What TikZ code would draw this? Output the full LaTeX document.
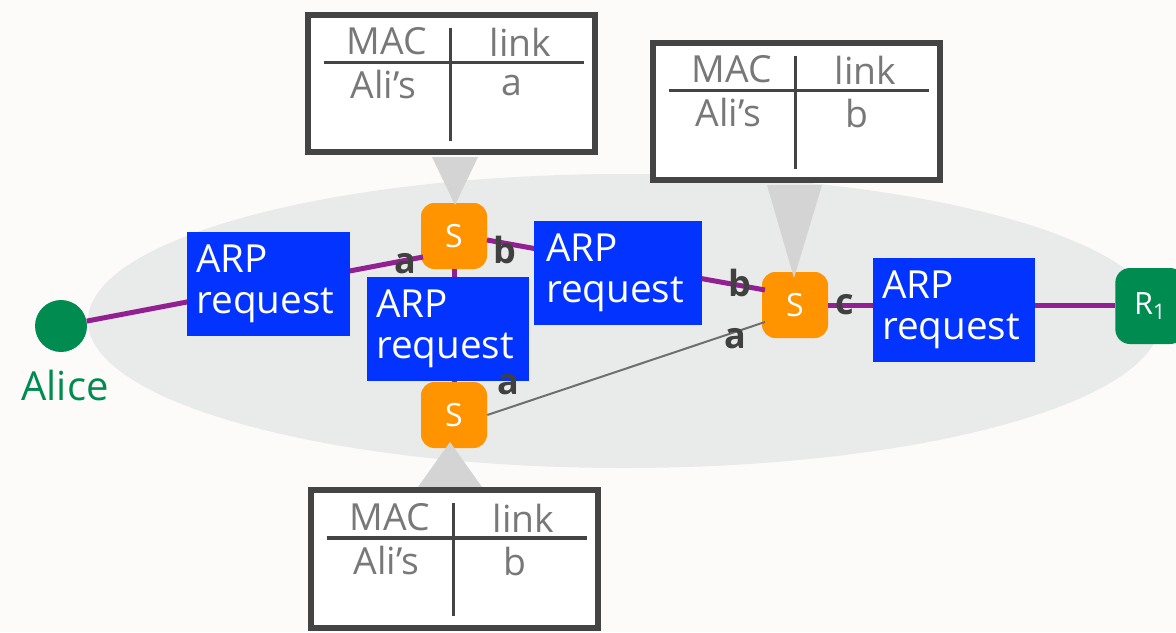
\documentclass[tikz,border=0pt]{standalone}
\usepackage{fontspec}
\setmainfont{Open Sans}
\usetikzlibrary{calc}
\definecolor{bgc}{RGB}{253,251,250}
\definecolor{ellc}{RGB}{233,234,234}
\definecolor{wirec}{RGB}{146,32,146}
\definecolor{boxc}{RGB}{3,51,255}
\definecolor{swc}{RGB}{255,148,0}
\definecolor{grn}{RGB}{0,140,80}
\definecolor{lblc}{RGB}{64,64,64}
\definecolor{tblc}{RGB}{120,120,120}
\definecolor{frm}{RGB}{68,68,68}
\definecolor{tric}{RGB}{212,212,212}
\definecolor{gwire}{RGB}{110,110,110}
\newcommand\mactab[2]{%
 \node[tabtxt] (#1mac) at ($(#1)+(-65,-42)$) {MAC};
 \node[tabtxt] (#1lnk) at ($(#1)+(69,-41)$) {link};
 \node[tabtxt] (#1ali) at ($(#1)+(-68,1)$) {Ali’s};
 \node[tabtxt] (#1val) at ($(#1)+(60,2)$) {#2};
 \draw[tabline] ($(#1)+(-128,-21)$) -- ($(#1)+(132,-21)$);
 \draw[tabline] ($(#1)+(-1,-56)$) -- ($(#1)+(-1,57)$);
}
\begin{document}
\begin{tikzpicture}[x=0.75pt,y=-0.75pt,
  wire/.style={draw=wirec,line width=3.75pt},
  graywire/.style={draw=gwire,line width=1.5pt},
  arpbox/.style={fill=boxc,text=white,minimum width=122pt,minimum height=78pt,
    text width=108pt,inner xsep=7pt,inner ysep=0pt,align=left,
    font=\fontsize{29}{31}\selectfont},
  switchbox/.style={fill=swc,text=white,minimum size=49.5pt,inner sep=0pt,
    rounded corners=10pt,font=\fontsize{24}{26}\selectfont},
  lbl/.style={text=lblc,inner sep=0pt,font=\fontsize{27}{29}\selectfont\bfseries},
  tabtxt/.style={text=tblc,inner sep=0pt,font=\fontsize{28}{30}\selectfont},
  tabline/.style={draw=frm,line width=2.6pt},
  calloutbox/.style={draw=frm,fill=white,line width=4.5pt,minimum width=215pt,
    minimum height=103pt,inner sep=0pt},
  pointer/.style={fill=tric,draw=none}]
\useasboundingbox (0,0) rectangle (1176,632);
\clip (0,0) rectangle (1176,632);
\fill[bgc] (0,0) rectangle (1176,632);
% cloud
\fill[ellc] (624,321) ellipse [x radius=536, y radius=147];
% end nodes and switches
\node[circle,fill=grn,minimum size=39pt,inner sep=0pt] (alice) at (61,326) {};
\node[text=grn,inner sep=0pt,font=\fontsize{30}{32}\selectfont] (alicet) at (65,385) {Alice};
\node[switchbox] (s1) at (454,236) {S};
\node[switchbox] (s2) at (454,415) {S};
\node[switchbox] (s3) at (795,305) {S};
\node[fill=grn,text=white,minimum width=52pt,minimum height=57pt,inner sep=0pt,
  rounded corners=11pt,font=\fontsize{23}{25}\selectfont] (r1) at (1150,306) {R\textsubscript{1}};
% connectors
\coordinate (s1in) at (423,257);
\coordinate (s1out) at (487,240);
\coordinate (s3in) at (765,290);
\coordinate (s3ina) at (765,322);
\draw[wire] (alice) -- (s1in);
\draw[wire] (s1out) -- (s3in);
\draw[wire] (s1) -- (s2);
\draw[wire] (s3) -- (s3 -| r1.west);
\draw[graywire] (s2.east) -- (s3ina);
% ARP request boxes
\node[arpbox] (arp1) at (268.5,284) {ARP\\request};
\node[arpbox] (arp2) at (448,328.5) {ARP\\request};
\node[arpbox,minimum width=126pt] (arp3) at (618,273) {ARP\\request};
\node[arpbox] (arp4) at (954,310) {ARP\\request};
% pointers
\fill[pointer] (432,157) -- (478,157) -- (455,205) -- cycle;
\fill[pointer] (767,185) -- (822,185) -- (794,278) -- cycle;
\fill[pointer] (418,487) -- (482,487) -- (450,442) -- cycle;
% tables
\node[calloutbox] (c1) at (451.5,83.5) {};
\mactab{c1}{a}
\node[calloutbox] (c2) at (796.5,111.5) {};
\mactab{c2}{b}
\node[calloutbox] (c3) at (454.5,559) {};
\mactab{c3}{b}
% link labels
\node[lbl] (la1) at (405,264) {a};
\node[lbl] (lb1) at (505,250) {b};
\node[lbl] (la2) at (508,385) {a};
\node[lbl] (lb3) at (740,283) {b};
\node[lbl] (lc3) at (845,305) {c};
\node[lbl] (la3) at (735,339) {a};
\end{tikzpicture}
\end{document}
